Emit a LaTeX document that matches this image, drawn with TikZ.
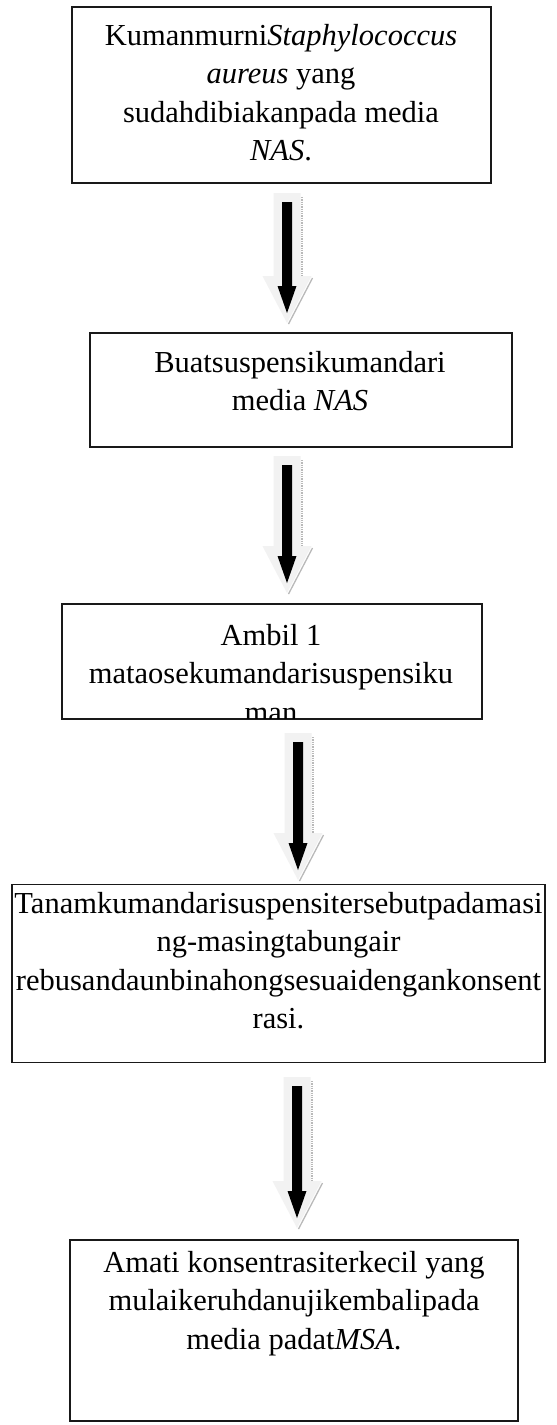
\documentclass[tikz,border=0pt]{standalone}
\usepackage{fontspec}
\setmainfont{Liberation Serif}
\usetikzlibrary{calc}
\tikzset{
  box/.style={draw=black!90, line width=1.6pt, rectangle, inner sep=0pt},
  boxtext/.style={anchor=north, align=center, inner sep=0pt, font=\fontsize{30.5}{38.5}\selectfont},
  arrowbody/.style={fill=gray!10},
  arrowshade/.style={draw=gray!55, line width=1.3pt},
  arrowcore/.style={fill=black},
}
\newcommand\sk{\rule{0pt}{23pt}}
\newcommand\blockarrow[2]{%
  \path[arrowbody] ($(#1)+(-13.5,0)$) -- ($(#1)+(13.5,0)$) -- ($(#2)+(13.5,-47)$) -- ($(#2)+(24.5,-47)$) -- (#2) -- ($(#2)+(-24.5,-47)$) -- ($(#2)+(-13.5,-47)$) -- cycle;
  \draw[arrowshade, densely dotted] ($(#1)+(15,4)$) -- ($(#2)+(15,-47)$);
  \draw[arrowshade] ($(#2)+(25.5,-45)$) -- ($(#2)+(1.5,1)$);
  \path[arrowcore] ($(#1)+(-5,9)$) -- ($(#1)+(5,9)$) -- ($(#2)+(5,-37)$) -- ($(#2)+(9.5,-37)$) -- ($(#2)+(0,-10)$) -- ($(#2)+(-9.5,-37)$) -- ($(#2)+(-5,-37)$) -- cycle;
}
\begin{document}
\begin{tikzpicture}[x=1pt, y=-1pt]
\useasboundingbox (0,0) rectangle (557,1425);
\fill[white] (0,0) rectangle (557,1425);

% boxes
\node[box, minimum width=419pt, minimum height=176pt] (b1) at (281.5,95) {};
\node[box, minimum width=422pt, minimum height=114pt] (b2) at (301,390) {};
\node[box, minimum width=420pt, minimum height=115pt] (b3) at (272,661.5) {};
\node[box, minimum width=533pt, minimum height=178pt] (b4) at (278.5,973.5) {};
\node[box, minimum width=448pt, minimum height=181pt] (b5) at (294,1330.5) {};

% texts
\node[boxtext] (t1) at (281,22) {\sk Kumanmurni\textit{Staphylococcus}\\ \textit{aureus} yang\\ sudahdibiakanpada media\\ \textit{NAS}.};
\node[boxtext] (t2) at (300,349) {\sk Buatsuspensikumandari\\ media \textit{NAS}};
\begin{scope}
  \clip ($(b3.north west)+(0,1)$) rectangle ($(b3.south east)+(0,-1.5)$);
  \node[boxtext] (t3) at (271,622) {\sk Ambil 1\\ mataosekumandarisuspensiku\\ man};
\end{scope}
\node[boxtext] (t4) at (278.5,890) {\sk Tanamkumandarisuspensitersebutpadamasi\\ ng-masingtabungair\\ rebusandaunbinahongsesuaidengankonsent\\ rasi.};
\node[boxtext] (t5) at (294,1249) {\sk Amati konsentrasiterkecil yang\\ mulaikeruhdanujikembalipada\\ media padat\textit{MSA}.};

% arrows
\coordinate (a1s) at (287,193);  \coordinate (a1e) at (287,323);
\coordinate (a2s) at (287,456);  \coordinate (a2e) at (287,593);
\coordinate (a3s) at (298,733);  \coordinate (a3e) at (298,880);
\coordinate (a4s) at (297,1077); \coordinate (a4e) at (297,1228);
\blockarrow{a1s}{a1e}
\blockarrow{a2s}{a2e}
\blockarrow{a3s}{a3e}
\blockarrow{a4s}{a4e}
\end{tikzpicture}
\end{document}
